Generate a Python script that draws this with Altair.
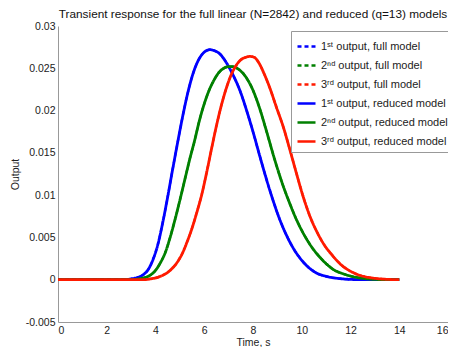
import altair as alt
import pandas as pd

# ---- data ----
t1 = [0, 2.6, 3.0, 3.3, 3.5, 3.7, 3.9, 4.1, 4.3, 4.5, 4.7, 4.9, 5.1, 5.3, 5.5, 5.7, 5.9, 6.1, 6.25,
      6.4, 6.64, 6.9, 7.2, 7.46, 7.75, 8.0, 8.28, 8.55, 8.82, 9.1, 9.4, 9.7, 10.0, 10.3, 10.6, 11.0, 11.5, 12.0, 12.6, 14]
v1 = [0, 0, 0.0001, 0.0003, 0.0006, 0.0012, 0.0024, 0.0042, 0.0068, 0.0098, 0.0130, 0.0161, 0.0191, 0.0218, 0.0240, 0.0256, 0.0266, 0.0271, 0.0272,
      0.0271, 0.0267, 0.0257, 0.0241, 0.0224, 0.0199, 0.0175, 0.0146, 0.0119, 0.0094, 0.0071, 0.0051, 0.0035, 0.0023, 0.0014, 0.0008, 0.0004, 0.00015, 0.00004, 0, 0]

t2 = [0, 3.0, 3.3, 3.7, 4.0, 4.2, 4.4, 4.6, 4.8, 5.0, 5.2, 5.4, 5.6, 5.8, 6.0, 6.2, 6.4, 6.6, 6.8, 7.0, 7.15,
      7.4, 7.7, 8.0, 8.28, 8.55, 8.89, 9.2, 9.51, 9.8, 10.1, 10.4, 10.7, 11.0, 11.3, 11.7, 12.2, 12.7, 13.2, 14]
v2 = [0, 0, 0.0001, 0.0004, 0.0011, 0.0020, 0.0032, 0.0050, 0.0071, 0.0094, 0.0118, 0.0142, 0.0164, 0.0188, 0.0208, 0.0224, 0.0236, 0.0245, 0.0250, 0.0252, 0.0252,
      0.0249, 0.0240, 0.0224, 0.0202, 0.0176, 0.0142, 0.0114, 0.0090, 0.0070, 0.0053, 0.0039, 0.0028, 0.0019, 0.0012, 0.0007, 0.0003, 0.0001, 0.00002, 0]

t3 = [0, 3.5, 3.8, 4.2, 4.6, 4.9, 5.1, 5.3, 5.5, 5.7, 5.9, 6.1, 6.3, 6.5, 6.7, 6.9, 7.1, 7.3, 7.5, 7.7, 7.87,
      8.05, 8.25, 8.45, 8.7, 8.96, 9.25, 9.51, 9.78, 10.05, 10.35, 10.65, 10.95, 11.25, 11.6, 12.0, 12.4, 12.9, 13.4, 14]
v3 = [0, 0, 0.0001, 0.0004, 0.0011, 0.0021, 0.0031, 0.0045, 0.0061, 0.0080, 0.0101, 0.0127, 0.0155, 0.0182, 0.0206, 0.0226, 0.0242, 0.0253, 0.0260, 0.0263, 0.0264,
      0.0263, 0.0256, 0.0244, 0.0226, 0.0204, 0.0180, 0.0154, 0.0126, 0.0099, 0.0074, 0.0055, 0.0040, 0.0029, 0.0018, 0.0010, 0.0005, 0.0002, 0.00006, 0]

names_full = ["1ˢᵗ output, full model", "2ⁿᵈ output, full model", "3ʳᵈ output, full model"]
names_red = ["1ˢᵗ output, reduced model", "2ⁿᵈ output, reduced model", "3ʳᵈ output, reduced model"]
colors = ["#0000ff", "#008000", "#ff1a00"]

x_ticks = [0, 2, 4, 6, 8, 10, 12, 14, 16]
y_ticks = [-0.005, 0, 0.005, 0.01, 0.015, 0.02, 0.025, 0.03]

title = "Transient response for the full linear (N=2842) and reduced (q=13) models"

rows = []
for i, (tt, vv) in enumerate([(t1, v1), (t2, v2), (t3, v3)]):
    for a, b in zip(tt, vv):
        rows.append({"t": a, "v": b, "series": names_full[i], "model": "full"})
        rows.append({"t": a, "v": b, "series": names_red[i], "model": "reduced"})
df = pd.DataFrame(rows)

domain = names_full + names_red
FONT = "Liberation Sans"

leg = alt.Legend(
    title=None, orient="none", legendX=233, legendY=5,
    symbolType="stroke", symbolSize=324, symbolStrokeWidth=2.6,
    labelFontSize=11, labelFont=FONT, labelColor="#222", labelLimit=0,
    labelOffset=4, rowPadding=3, padding=5,
    strokeColor="#999", fillColor="white",
)

color = alt.Color("series:N", scale=alt.Scale(domain=domain, range=colors * 2), legend=leg)
dash = alt.StrokeDash("series:N", scale=alt.Scale(domain=domain, range=[[4, 3]] * 3 + [[1, 0]] * 3), legend=leg)

x = alt.X("t:Q", scale=alt.Scale(domain=[0, 16], nice=False),
          axis=alt.Axis(values=x_ticks, title="Time, s", format="d"))
y = alt.Y("v:Q", scale=alt.Scale(domain=[-0.005, 0.03], nice=False),
          axis=alt.Axis(values=y_ticks, title="Output",
                        labelExpr="replace(format(datum.value, '~g'), '\u2212', '-')"))

base = alt.Chart(df)
full = base.transform_filter(alt.datum.model == "full").mark_line(
    strokeWidth=2.2, interpolate="monotone").encode(
    x=x, y=y, color=color, strokeDash=dash, order="t:Q")
red = base.transform_filter(alt.datum.model == "reduced").mark_line(
    strokeWidth=2.8, interpolate="monotone").encode(
    x=x, y=y, color=color, strokeDash=dash, order="t:Q")

chart = alt.layer(full, red).properties(
    width=390, height=296,
    autosize=alt.AutoSizeParams(type="none"),
    padding={"left": 50, "top": 18, "right": 0, "bottom": 25},
    title=alt.TitleParams(title, fontSize=11.8, fontWeight="normal", font=FONT,
                          color="#111", anchor="middle", offset=0),
).configure_view(stroke=None).configure_axis(
    domainColor="#999", ticks=False, labelPadding=3,
    labelFont=FONT, labelFontSize=10.5, labelColor="#222",
    titleFont=FONT, titleFontSize=10.5, titleFontWeight="normal", titleColor="#222",
    grid=False,
).configure_axisX(titlePadding=2).configure_axisY(titlePadding=5)

chart.save("out.html", embed_options={"renderer": "svg", "actions": False})
